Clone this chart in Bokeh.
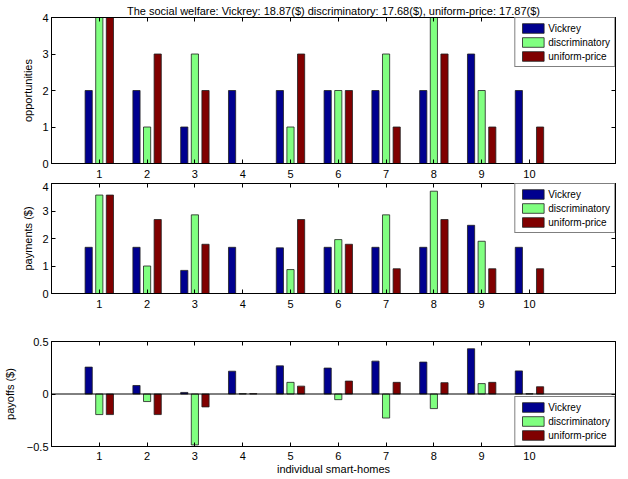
from bokeh.plotting import figure
from bokeh.layouts import column
from bokeh.models import (ColumnDataSource, FixedTicker, LinearAxis, Range1d, Span,
                          Legend, LegendItem)
from bokeh.transform import dodge
from bokeh.embed import file_html
from bokeh.resources import INLINE

homes = [1, 2, 3, 4, 5, 6, 7, 8, 9, 10]
series_names = ["Vickrey", "discriminatory", "uniform-price"]
series_colors = ["#00008F", "#80FF80", "#800000"]

opp_vickrey = [2, 2, 1, 2, 2, 2, 2, 2, 3, 2]
opp_discriminatory = [4, 1, 3, 0, 1, 2, 3, 4, 2, 0]
opp_uniform = [4, 3, 2, 0, 3, 2, 1, 3, 1, 1]

pay_vickrey = [1.68, 1.68, 0.84, 1.68, 1.66, 1.68, 1.68, 1.68, 2.48, 1.68]
pay_discriminatory = [3.58, 1.00, 2.86, 0.0, 0.87, 1.96, 2.86, 3.72, 1.90, 0.0]
pay_uniform = [3.58, 2.69, 1.79, 0.0, 2.69, 1.79, 0.90, 2.69, 0.90, 0.90]

payoff_vickrey = [0.256, 0.081, 0.015, 0.217, 0.268, 0.247, 0.313, 0.304, 0.431, 0.220]
payoff_discriminatory = [-0.196, -0.072, -0.485, 0.003, 0.111, -0.054, -0.229, -0.139, 0.099, 0.003]
payoff_uniform = [-0.196, -0.196, -0.123, 0.003, 0.075, 0.123, 0.111, 0.108, 0.111, 0.069]

title_text = ("The social welfare: Vickrey: 18.87($) discriminatory: 17.68($), "
              "uniform-price: 17.87($)")

FONT = "Liberation Sans"
FS = "11px"
LEG_FS = "10px"
OFFSET = 0.222
BAR_W = 0.15
X_MAX = 11.8


def make_fig(vals, ylabel, y_range, y_ticks, legend_loc, top_b, bottom_b, frame_h,
             title=None, xlabel=None, zero_line=False, ylabel_standoff=5,
             xtick_standoff=6):
    p = figure(width=617, height=top_b + frame_h + bottom_b,
               output_backend="svg", toolbar_location=None,
               x_range=Range1d(0, X_MAX), y_range=Range1d(*y_range),
               min_border_left=51, min_border_right=2,
               min_border_top=top_b, min_border_bottom=bottom_b)
    p.xgrid.visible = False
    p.ygrid.visible = False
    p.outline_line_color = "black"
    p.outline_line_width = 1
    p.background_fill_color = "white"
    p.border_fill_color = "white"

    if title:
        p.title.text = title
        p.title.align = "center"
        p.title.text_font = FONT
        p.title.text_font_size = FS
        p.title.text_font_style = "normal"
        p.title.text_color = "black"
        p.title.standoff = 1
        p.title.offset = 0

    src = ColumnDataSource(dict(home=homes, a=vals[0], b=vals[1], c=vals[2]))
    renderers = []
    for key, off, col in zip(["a", "b", "c"], [-OFFSET, 0.0, OFFSET], series_colors):
        r = p.vbar(x=dodge("home", off), top=key, bottom=0, width=BAR_W, source=src,
                   fill_color=col, line_color="#202020", line_width=0.8)
        renderers.append(r)

    if zero_line:
        p.add_layout(Span(location=0, dimension="width", line_color="black",
                          line_width=1))

    for ax in p.xaxis:
        ax.ticker = FixedTicker(ticks=homes)
        ax.major_label_standoff = xtick_standoff
    for ax in p.yaxis:
        ax.ticker = FixedTicker(ticks=y_ticks)
        ax.major_label_standoff = 3

    for ax in list(p.xaxis) + list(p.yaxis):
        ax.major_tick_in = 4
        ax.major_tick_out = 0
        ax.minor_tick_in = 0
        ax.minor_tick_out = 0
        ax.major_label_text_font = FONT
        ax.major_label_text_font_size = FS
        ax.major_label_text_color = "black"
        ax.axis_line_color = "black"
        ax.major_tick_line_color = "black"
        ax.axis_label_text_font = FONT
        ax.axis_label_text_font_size = FS
        ax.axis_label_text_font_style = "normal"
        ax.axis_label_text_color = "black"

    p.yaxis.axis_label = ylabel
    p.yaxis.axis_label_standoff = ylabel_standoff
    if xlabel:
        p.xaxis.axis_label = xlabel
        p.xaxis.axis_label_standoff = 0

    # mirrored ticks on top and right
    top_ax = LinearAxis(ticker=FixedTicker(ticks=homes), major_tick_in=4,
                        major_tick_out=0, minor_tick_in=0, minor_tick_out=0,
                        major_label_text_font_size="0px", major_label_standoff=0,
                        axis_line_color="black", major_tick_line_color="black")
    right_ax = LinearAxis(ticker=FixedTicker(ticks=y_ticks), major_tick_in=4,
                          major_tick_out=0, minor_tick_in=0, minor_tick_out=0,
                          major_label_text_font_size="0px", major_label_standoff=0,
                          axis_line_color="black", major_tick_line_color="black")
    p.add_layout(top_ax, "above")
    p.add_layout(right_ax, "right")

    legend = Legend(items=[LegendItem(label=n, renderers=[r])
                           for n, r in zip(series_names, renderers)],
                    location=legend_loc)
    legend.border_line_color = "black"
    legend.border_line_width = 1
    legend.background_fill_color = "white"
    legend.background_fill_alpha = 1
    legend.label_text_font = FONT
    legend.label_text_font_size = LEG_FS
    legend.label_text_color = "black"
    legend.glyph_width = 27
    legend.glyph_height = 12
    legend.label_height = 12
    legend.spacing = 2
    legend.padding = 4
    legend.margin = 0
    legend.label_standoff = 2
    p.add_layout(legend)
    return p


p1 = make_fig([opp_vickrey, opp_discriminatory, opp_uniform], "opportunities",
              (0, 4), [0, 1, 2, 3, 4], "top_right", 17, 19, 146, title=title_text)
p2 = make_fig([pay_vickrey, pay_discriminatory, pay_uniform], "payments ($)",
              (0, 4), [0, 1, 2, 3, 4], "top_right", 1, 24, 110)
p3 = make_fig([payoff_vickrey, payoff_discriminatory, payoff_uniform], "payoffs ($)",
              (-0.5, 0.5), [-0.5, 0, 0.5], "bottom_right", 24, 30, 106,
              xlabel="individual smart-homes", zero_line=True, ylabel_standoff=8,
              xtick_standoff=5)

layout = column(p1, p2, p3, spacing=0)
open("out.html", "w").write(file_html(layout, INLINE))
